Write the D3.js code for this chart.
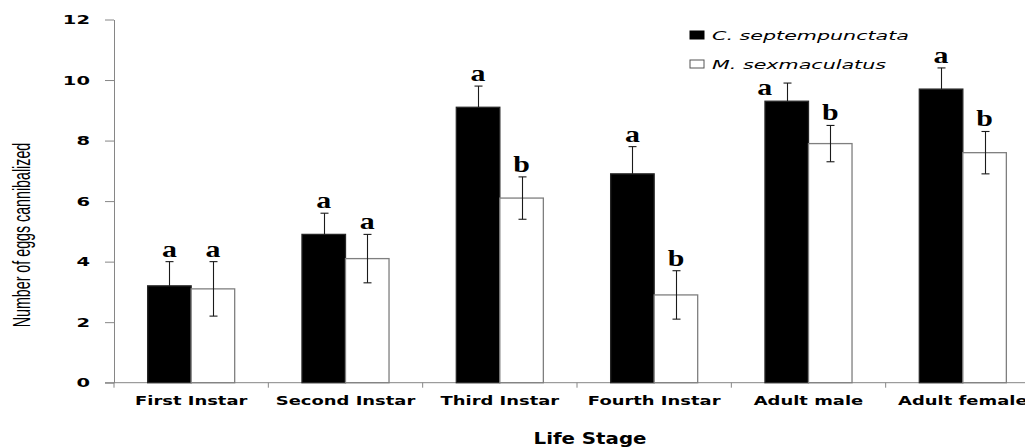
<!DOCTYPE html>
<html>
<head>
<meta charset="utf-8">
<script src="https://cdn.jsdelivr.net/npm/d3@7"></script>
<style>
  body { margin: 0; background: #fff; }
  svg { display: block; }
</style>
</head>
<body>
<svg id="chart" width="1025" height="447"></svg>
<script>
const stages = ['First Instar', 'Second Instar', 'Third Instar', 'Fourth Instar', 'Adult male', 'Adult female']
const species = ['C. septempunctata', 'M. sexmaculatus']
const septMean = [3.2, 4.9, 9.1, 6.9, 9.3, 9.7]
const septErr = [0.8, 0.7, 0.7, 0.9, 0.6, 0.7]
const sexMean = [3.1, 4.1, 6.1, 2.9, 7.9, 7.6]
const sexErr = [0.9, 0.8, 0.7, 0.8, 0.6, 0.7]
const septLetters = ['a', 'a', 'a', 'a', 'a', 'a']
const sexLetters = ['a', 'a', 'b', 'b', 'b', 'b']
const yTicks = [0, 2, 4, 6, 8, 10, 12]

const W = 1025, H = 447
const plotLeft = 114, plotTop = 19.5, plotBottom = 382.7, plotRight = 1040
const SX = 1.4   // the original picture is stretched sideways
const axisGray = '#868686'

const svg = d3.select('#chart')

const x = d3.scaleBand().domain(stages).range([plotLeft, plotRight]).padding(0)
const bw = x.bandwidth()
const xs = d3.scaleBand().domain(species).range([bw * 0.218, bw * 0.782]).padding(0)
const y = d3.scaleLinear().domain([0, 12]).range([plotBottom, plotTop])

// stretched text helper
function stext(g, tx, ty, str, sx) {
  return g.append('text')
    .attr('transform', `translate(${tx},${ty}) scale(${sx || SX},1)`)
    .text(str)
}

// y axis
const yAxis = svg.append('g')
  .attr('transform', `translate(${plotLeft},0)`)
  .call(d3.axisLeft(y).tickValues(yTicks).tickSize(9).tickSizeOuter(0).tickFormat(''))
yAxis.select('.domain').attr('stroke', axisGray)
yAxis.selectAll('.tick line').attr('stroke', axisGray)

const yLab = svg.append('g')
  .attr('font-family', 'DejaVu Sans, Verdana, sans-serif')
  .attr('font-weight', 'bold')
  .attr('font-size', 13)
  .attr('text-anchor', 'end')
  .attr('fill', '#000')
yTicks.forEach(t => stext(yLab, plotLeft - 24, y(t) + 4.7, t, 1.5))

// x axis: baseline + ticks at category boundaries
svg.append('line')
  .attr('x1', plotLeft - 9).attr('x2', W)
  .attr('y1', plotBottom).attr('y2', plotBottom)
  .attr('stroke', axisGray)
svg.append('g').selectAll('line')
  .data(stages.map(s => x(s)).concat([plotRight]))
  .join('line')
  .attr('x1', d => d).attr('x2', d => d)
  .attr('y1', plotBottom).attr('y2', plotBottom + 5)
  .attr('stroke', axisGray)

const xLab = svg.append('g')
  .attr('font-family', 'DejaVu Sans, Verdana, sans-serif')
  .attr('font-weight', 'bold')
  .attr('font-size', 13)
  .attr('text-anchor', 'middle')
stages.forEach(s => stext(xLab, x(s) + bw / 2, 405, s, 1.38))

// bars
const series = [
  { name: species[0], mean: septMean, err: septErr, letters: septLetters, fill: '#000', stroke: '#262626' },
  { name: species[1], mean: sexMean, err: sexErr, letters: sexLetters, fill: '#fff', stroke: '#7f7f7f' }
]
const rows = []
series.forEach(sr => stages.forEach((st, i) => rows.push({
  stage: st, sr, v: sr.mean[i], e: sr.err[i], letter: sr.letters[i]
})))

svg.append('g').selectAll('rect')
  .data(rows)
  .join('rect')
  .attr('x', d => x(d.stage) + xs(d.sr.name))
  .attr('y', d => y(d.v))
  .attr('width', xs.bandwidth())
  .attr('height', d => y(0) - y(d.v))
  .attr('fill', d => d.sr.fill)
  .attr('stroke', d => d.sr.stroke)
  .attr('stroke-width', 1.3)

// error bars (the lower half disappears inside the black bars)
const eg = svg.append('g').attr('stroke', '#1a1a1a').attr('stroke-width', 1.1)
rows.forEach(d => {
  const cx = Math.round(x(d.stage) + xs(d.sr.name) + xs.bandwidth() / 2) + 0.5
  const dark = d.sr.fill === '#000'
  const lo = dark ? d.v : d.v - d.e
  eg.append('line').attr('x1', cx).attr('x2', cx).attr('y1', y(lo)).attr('y2', y(d.v + d.e))
  const caps = dark ? [d.v + d.e] : [d.v - d.e, d.v + d.e]
  caps.forEach(v => {
    eg.append('line').attr('x1', cx - 4).attr('x2', cx + 4).attr('y1', y(v)).attr('y2', y(v))
  })
})

// significance letters
const lg = svg.append('g')
  .attr('font-family', 'Liberation Serif, Times New Roman, serif')
  .attr('font-weight', 'bold')
  .attr('font-size', 23)
  .attr('text-anchor', 'middle')
rows.forEach(d => {
  let cx = x(d.stage) + xs(d.sr.name) + xs.bandwidth() / 2
  let by = y(d.v + d.e) - 5
  // this one sits beside its bar so it clears the legend
  if (d.stage === 'Adult male' && d.sr === series[0]) { cx -= 22; by += 17 }
  stext(lg, cx, by, d.letter, 1.3)
})

// legend
const leg = svg.append('g')
  .attr('font-family', 'DejaVu Sans, Verdana, sans-serif')
  .attr('font-style', 'italic')
  .attr('font-size', 12)
series.forEach((sr, i) => {
  const ly = 31 + i * 29
  leg.append('rect').attr('x', 690).attr('y', ly).attr('width', 14).attr('height', 8)
    .attr('fill', sr.fill).attr('stroke', sr.fill === '#000' ? '#000' : '#555').attr('stroke-width', 1)
  stext(leg, 712, ly + 8.5, sr.name, 1.72)
})

// axis titles
stext(svg.append('g')
  .attr('font-family', 'DejaVu Sans, Verdana, sans-serif')
  .attr('font-weight', 'bold')
  .attr('font-size', 15)
  .attr('text-anchor', 'middle'), 590, 443.5, 'Life Stage', 1.32)

svg.append('text')
  .attr('transform', 'translate(30,235) rotate(-90) scale(0.75,1.3)')
  .attr('font-family', 'Liberation Sans Narrow, Arial Narrow, Liberation Sans, sans-serif')
  .attr('font-size', 19)
  .attr('text-anchor', 'middle')
  .text('Number of eggs cannibalized')
</script>
</body>
</html>
